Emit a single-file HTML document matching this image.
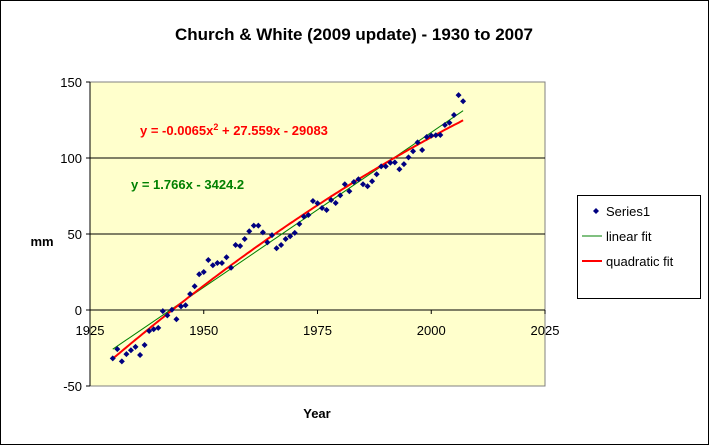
<!DOCTYPE html>
<html><head><meta charset="utf-8"><style>
body{margin:0;background:#fff}
svg{display:block;font-family:"Liberation Sans",Arial,sans-serif}
</style></head><body>
<svg id="chart" width="709" height="445" viewBox="0 0 709 445">
<rect x="0.5" y="0.5" width="708" height="444" fill="#fff" stroke="#000"/>
<text x="354" y="40" text-anchor="middle" font-size="17" font-weight="bold">Church &amp; White (2009 update) - 1930 to 2007</text>
<rect x="90" y="82" width="455" height="304" fill="#ffffcc" stroke="#808080"/>
<g id="grid"></g><g id="fits"></g><g id="pts"></g><g id="axes"></g>
<text x="42" y="246" text-anchor="middle" font-size="13" font-weight="bold">mm</text>
<text x="317" y="418" text-anchor="middle" font-size="13" font-weight="bold">Year</text>
<text x="140" y="135" font-size="13" font-weight="bold" fill="#ff0000">y = -0.0065x<tspan dy="-5" font-size="9">2</tspan><tspan dy="5"> + 27.559x - 29083</tspan></text>
<text x="131" y="189" font-size="13" font-weight="bold" fill="#008000">y = 1.766x - 3424.2</text>
<g>
<rect x="577.5" y="195.5" width="123" height="103" fill="#fff" stroke="#000"/>
<path d="M596 208l3 3-3 3-3-3z" fill="#000080"/>
<text x="606" y="216" font-size="13">Series1</text>
<line x1="582" y1="236" x2="602" y2="236" stroke="#008000"/>
<text x="606" y="241" font-size="13">linear fit</text>
<line x1="582" y1="261" x2="602" y2="261" stroke="#ff0000" stroke-width="2"/>
<text x="606" y="266" font-size="13">quadratic fit</text>
</g>
</svg>
<script>
const startYear = 1930;
const values = [-31.8,-25.7,-33.8,-29,-26.5,-24.3,-29.6,-23,-13.8,-12.7,-11.8,-0.7,-3.5,0.2,-6.1,2.4,3.1,10.5,15.6,23.5,25,32.9,29.4,30.9,30.9,34.7,27.8,42.8,42.1,46.7,51.8,55.5,55.5,51.1,44.5,49.3,40.6,42.8,46.7,48.5,50.7,56.6,61.4,62.5,71.7,70.2,67.1,65.8,72.4,70.4,75.4,82.7,78.1,84.2,86,82.7,81.4,84.7,89.3,94.5,94.5,96.9,97.1,92.6,96,100.4,104.4,110.3,105.3,113.8,114.7,115,115.1,121.7,123.2,128.3,141.4,137.3];
const xTicks = [1925,1950,1975,2000,2025];
const yTicks = [-50,0,50,100,150];
const NS="http://www.w3.org/2000/svg";
const X=v=>90+(v-1925)*455/100;
const Y=v=>310-v*304/200;
function mk(t,a,p){const e=document.createElementNS(NS,t);for(const k in a)e.setAttribute(k,a[k]);p.appendChild(e);return e;}
const grid=document.getElementById('grid'),axes=document.getElementById('axes');
yTicks.forEach(t=>{
 if(t!==-50&&t!==150){const l=mk('line',{x1:90,x2:545,y1:Y(t),y2:Y(t),stroke:'#000'},grid);
 
 }
 const tk=mk('line',{x1:86,x2:90,y1:Y(t),y2:Y(t),stroke:'#000'},axes);
 
 
 const tx=mk('text',{x:82,y:Y(t)+5,'text-anchor':'end','font-size':13},axes);tx.textContent=t;
 
 
});
const ya=mk('line',{x1:90,x2:90,y1:82,y2:386,stroke:'#000'},axes);


xTicks.forEach(t=>{
 const tk=mk('line',{x1:X(t),x2:X(t),y1:310,y2:314,stroke:'#000'},axes);
 
 
 const tx=mk('text',{x:X(t),y:335,'text-anchor':'middle','font-size':13},axes);tx.textContent=t;
 
 
});
// least-squares fits computed from the data (centered x)
const n=values.length, xs=values.map((_,i)=>startYear+i);
const xm=xs.reduce((a,b)=>a+b,0)/n;
const u=xs.map(x=>x-xm);
function solve3(A,b){A=A.map((r,i)=>r.concat([b[i]]));for(let i=0;i<3;i++){let p=i;for(let k=i+1;k<3;k++)if(Math.abs(A[k][i])>Math.abs(A[p][i]))p=k;[A[i],A[p]]=[A[p],A[i]];for(let k=0;k<3;k++){if(k===i)continue;const f=A[k][i]/A[i][i];for(let j=i;j<4;j++)A[k][j]-=f*A[i][j];}}return A.map((r,i)=>r[3]/r[i]);}
let S=[0,0,0,0,0],T=[0,0,0];
u.forEach((x,i)=>{for(let k=0;k<5;k++)S[k]+=Math.pow(x,k);for(let k=0;k<3;k++)T[k]+=values[i]*Math.pow(x,k);});
const lb=(T[1]-S[1]*T[0]/n)/(S[2]-S[1]*S[1]/n), la=(T[0]-lb*S[1])/n;
const q=solve3([[S[0],S[1],S[2]],[S[1],S[2],S[3]],[S[2],S[3],S[4]]],T);
const lin=x=>la+lb*(x-xm);
const quad=x=>{const d=x-xm;return q[0]+q[1]*d+q[2]*d*d;};
const fits=document.getElementById('fits');
const y0=startYear,y1=startYear+n-1;
const ll=mk('line',{x1:X(y0),y1:Y(lin(y0)),x2:X(y1),y2:Y(lin(y1)),stroke:'#008000'},fits);


let d='';for(let yr=y0;yr<=y1;yr+=0.5){d+=(d?'L':'M')+X(yr).toFixed(1)+' '+Y(quad(yr)).toFixed(1);}
const ql=mk('path',{d:d,fill:'none',stroke:'#ff0000','stroke-width':2},fits);


const pts=document.getElementById('pts');
values.forEach((v,i)=>{const cx=X(startYear+i),cy=Y(v);
 const p=mk('path',{d:`M${cx} ${cy-3}l3 3-3 3-3-3z`,fill:'#000080'},pts);
 
 });
</script>
</body></html>
